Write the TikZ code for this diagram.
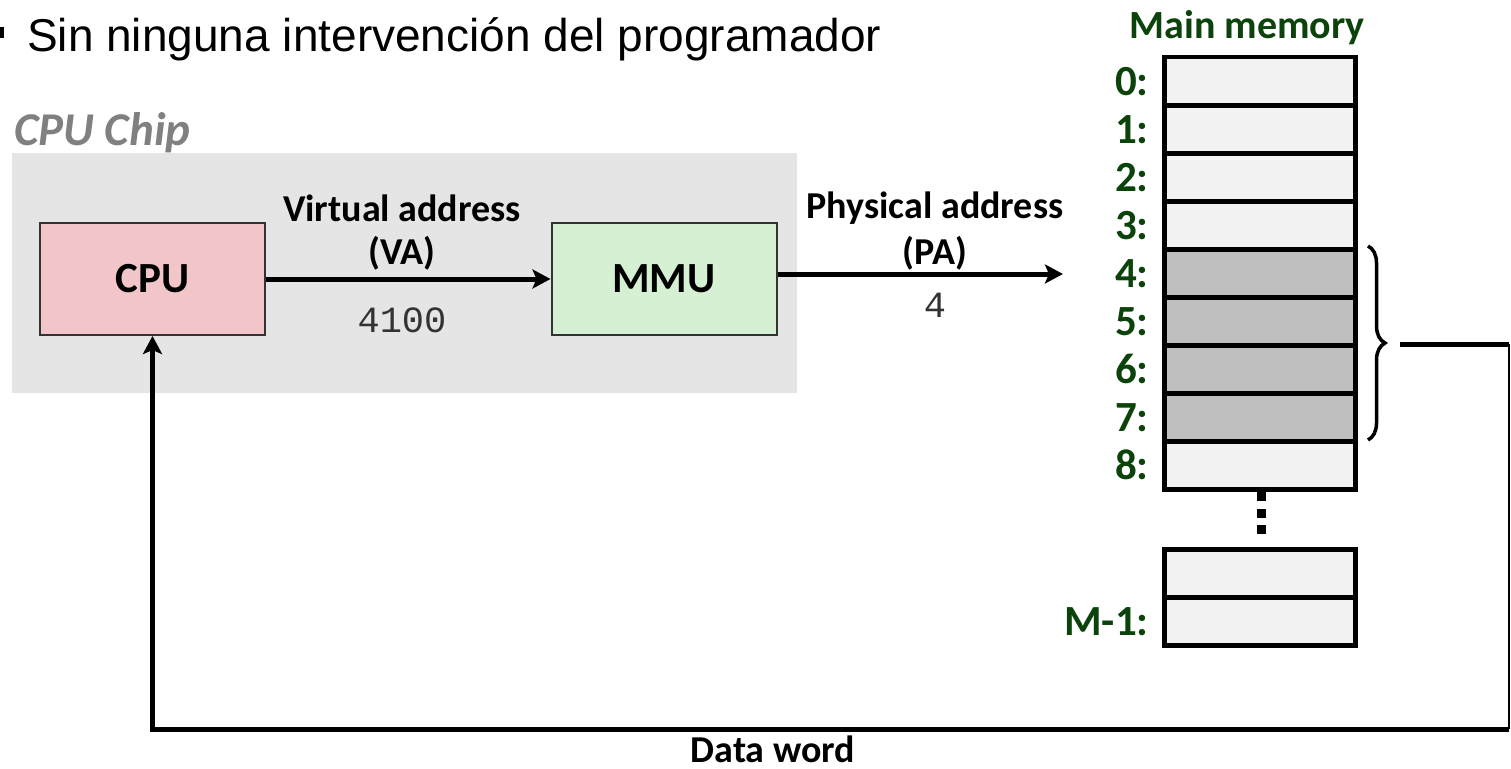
\documentclass[tikz,border=0pt]{standalone}
\usepackage{fontspec}
\setmainfont{Carlito}
\newfontfamily\arialf{Liberation Sans}
\newfontfamily\courf{Liberation Mono}
\usetikzlibrary{arrows.meta,decorations.pathreplacing}
\definecolor{memgreen}{HTML}{0B430B}
\definecolor{chipgray}{HTML}{E5E5E5}
\definecolor{cpufill}{HTML}{F2C6C8}
\definecolor{mmufill}{HTML}{D5F0D2}
\definecolor{cellfill}{HTML}{F2F2F2}
\definecolor{cellshade}{HTML}{BFBFBF}
\definecolor{chiplabel}{HTML}{808080}
\tikzset{
  lbl/.style={font=\fontsize{38}{40}\selectfont\bfseries, inner sep=0pt},
  unit/.style={draw=black!80, line width=2pt, minimum width=225pt, minimum height=112pt, inner sep=0pt, font=\fontsize{43}{46}\selectfont\bfseries},
  cell/.style={draw=black, line width=4.5pt, fill=cellfill, minimum width=191pt, minimum height=48pt, inner sep=0pt, anchor=north west},
  shade/.style={fill=cellshade},
  addr/.style={inner sep=0pt, font=\fontsize{43}{46}\selectfont\bfseries, text=memgreen, anchor=east},
  conn/.style={line width=5pt, -{Stealth[length=18pt,width=19pt,inset=4pt]}},
  mono/.style={font=\fontsize{37}{40}\courf, inner sep=0pt, text=black!80}
}
\begin{document}
\begin{tikzpicture}[x=1pt,y=-1pt]
\useasboundingbox (0,0) rectangle (1511,768);
% title line
\fill (0,27) rectangle (4,38);
\node[anchor=base west, inner sep=0pt, font=\fontsize{46}{50}\arialf] (title) at (27,52) {Sin ninguna intervención del programador};
% chip
\fill[chipgray] (12,153) rectangle (797,393);
\node[anchor=base west, inner sep=0pt, text=chiplabel, font=\fontsize{47}{50}\selectfont\bfseries\itshape] (chiplbl) at (14,145) {CPU Chip};
\node[unit, fill=cpufill] (cpu) at (152.5,279) {CPU};
\node[unit, fill=mmufill] (mmu) at (664,279) {MMU};
% memory
\node[inner sep=0pt, font=\fontsize{40}{44}\selectfont\bfseries, text=memgreen] (mmlbl) at (1247,28) {Main memory};
\foreach \i in {0,...,8} {
  \pgfmathsetmacro\yy{55+48*\i}
  \ifnum\i>3 \ifnum\i<8
    \node[cell, shade] (c\i) at (1162,\yy) {};
  \else
    \node[cell] (c\i) at (1162,\yy) {};
  \fi\else
    \node[cell] (c\i) at (1162,\yy) {};
  \fi
  \node[addr] (a\i) at ([xshift=-13pt]c\i.west) {\i:};
}
\node[cell] (cx) at (1162,547) {};
\node[cell] (cm) at (1162,595) {};
\node[addr] (am) at ([xshift=-13pt]cm.west) {M-1:};
% dots
\foreach \k in {0,1,2} \fill ({1257},{492+\k*16.5}) rectangle ++(9,9);
% brace
\draw[line width=3.5pt, decoration={brace, amplitude=17pt}, decorate] (1368,246) -- (1368,440);
\coordinate (dstart) at (1400,344);
\coordinate (rc1) at (1509,344);
\coordinate (rc2) at (1509,729);
% connectors
\draw[conn] (cpu.east) -- (mmu.west);
\draw[conn] (mmu.east |- 0,274) -- ([xshift=-52pt]a4.west |- 0,274) coordinate (pend);
\draw[line width=5pt] (dstart) -- (rc1);
\draw[line width=2.5pt] (rc1) -- (rc2);
\draw[conn] (rc2) -- (cpu.south |- rc2) -- (cpu.south);
% labels
\node[lbl] (va1) at (402,208) {Virtual address};
\node[lbl] (va2) at (402,253) {(VA)};
\node[mono] (va3) at (402,320) {4100};
\node[lbl] (pa1) at (935,208) {Physical address};
\node[lbl] (pa2) at (935,253) {(PA)};
\node[mono] (pa3) at (935,305) {4};
\node[lbl, anchor=base] (dw) at (773,762) {Data word};
\end{tikzpicture}
\end{document}
